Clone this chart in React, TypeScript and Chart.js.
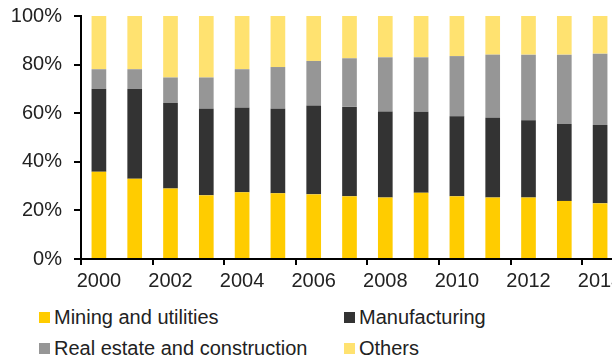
import React, { useEffect, useRef } from "react";
import { Chart, registerables } from "chart.js";

Chart.register(...registerables);

const years = ["2000","2001","2002","2003","2004","2005","2006","2007","2008","2009","2010","2011","2012","2013","2014"];
const mining = [35.9, 33.0, 29.0, 26.2, 27.5, 27.1, 26.6, 25.8, 25.3, 27.3, 25.8, 25.3, 25.3, 23.9, 22.9];
const manufacturing = [34.2, 37.1, 35.2, 35.6, 34.7, 34.7, 36.6, 36.8, 35.4, 33.3, 32.9, 32.8, 31.8, 31.7, 32.2];
const realEstate = [8.0, 8.0, 10.5, 12.9, 15.9, 17.2, 18.3, 20.0, 22.3, 22.4, 24.8, 26.0, 27.0, 28.5, 29.4];
const others = [21.9, 21.9, 25.3, 25.3, 21.9, 21.0, 18.5, 17.4, 17.0, 17.0, 16.5, 15.9, 15.9, 15.9, 15.5];
const yTicks = [0, 20, 40, 60, 80, 100];

const seriesNames = ["Mining and utilities", "Manufacturing", "Real estate and construction", "Others"];
const colors = ["#FFCC00", "#333333", "#969696", "#FFE270"];

const FONT = "'Liberation Sans', Arial, sans-serif";

export default function App() {
  const ref = useRef<HTMLCanvasElement>(null);
  useEffect(() => {
    const canvas = ref.current!;
    const series = [mining, manufacturing, realEstate, others];
    const chart = new Chart(canvas, {
      type: "bar",
      data: {
        labels: years,
        datasets: series.map((d, i) => ({
          label: seriesNames[i],
          data: d,
          backgroundColor: colors[i],
          borderWidth: 0,
          categoryPercentage: 1,
          barPercentage: 0.41,
        })),
      },
      options: {
        responsive: false,
        animation: false,
        layout: { padding: { top: 16, right: 12, left: 0, bottom: 0 } },
        plugins: { legend: { display: false }, tooltip: { enabled: false } },
        scales: {
          x: {
            stacked: true,
            offset: true,
            grid: {
              offset: true,
              drawOnChartArea: false,
              drawTicks: true,
              tickLength: 6,
              lineWidth: 2,
              color: (ctx: any) => (ctx.index !== undefined && ctx.index % 2 === 0 ? "#000" : "rgba(0,0,0,0)"),
            },
            border: { color: "#000", width: 2 },
            ticks: {
              autoSkip: false,
              maxRotation: 0,
              padding: 4,
              color: "#222",
              font: { family: FONT, size: 20 },
              callback: (_v: any, i: number) => (i % 2 === 0 ? years[i] : ""),
            },
            afterFit: (s: any) => { s.height = 35; s.paddingLeft = 0; s.paddingRight = 0; },
          },
          y: {
            stacked: true,
            min: yTicks[0],
            max: yTicks[yTicks.length - 1],
            afterBuildTicks: (s: any) => { s.ticks = yTicks.map((v) => ({ value: v })); },
            grid: { drawOnChartArea: false, tickLength: 7, lineWidth: 2, color: "#000" },
            border: { color: "#000", width: 2 },
            ticks: {
              padding: 12,
              color: "#222",
              font: { family: FONT, size: 20 },
              callback: (v: any) => v + "%",
            },
            afterFit: (s: any) => { s.width = 81; s.paddingTop = 0; s.paddingBottom = 0; },
          },
        },
      },
    });
    return () => chart.destroy();
  }, []);

  const legendItem = (i: number, left: number, top: number) => (
    <div key={i} style={{ position: "absolute", left, top, display: "flex", alignItems: "center", whiteSpace: "nowrap" }}>
      <span style={{ display: "inline-block", width: 11, height: 11, background: colors[i], marginRight: 4 }} />
      <span style={{ fontFamily: FONT, fontSize: 20, color: "#222", lineHeight: "24px" }}>{seriesNames[i]}</span>
    </div>
  );

  return (
    <div style={{ position: "absolute", left: 0, top: 0, width: 612, height: 362, overflow: "hidden", background: "#fff" }}>
      <canvas ref={ref} width={630} height={294} style={{ width: 630, height: 294, display: "block" }} />
      {legendItem(0, 39, 305)}
      {legendItem(1, 344, 305)}
      {legendItem(2, 39, 336)}
      {legendItem(3, 344, 336)}
    </div>
  );
}
